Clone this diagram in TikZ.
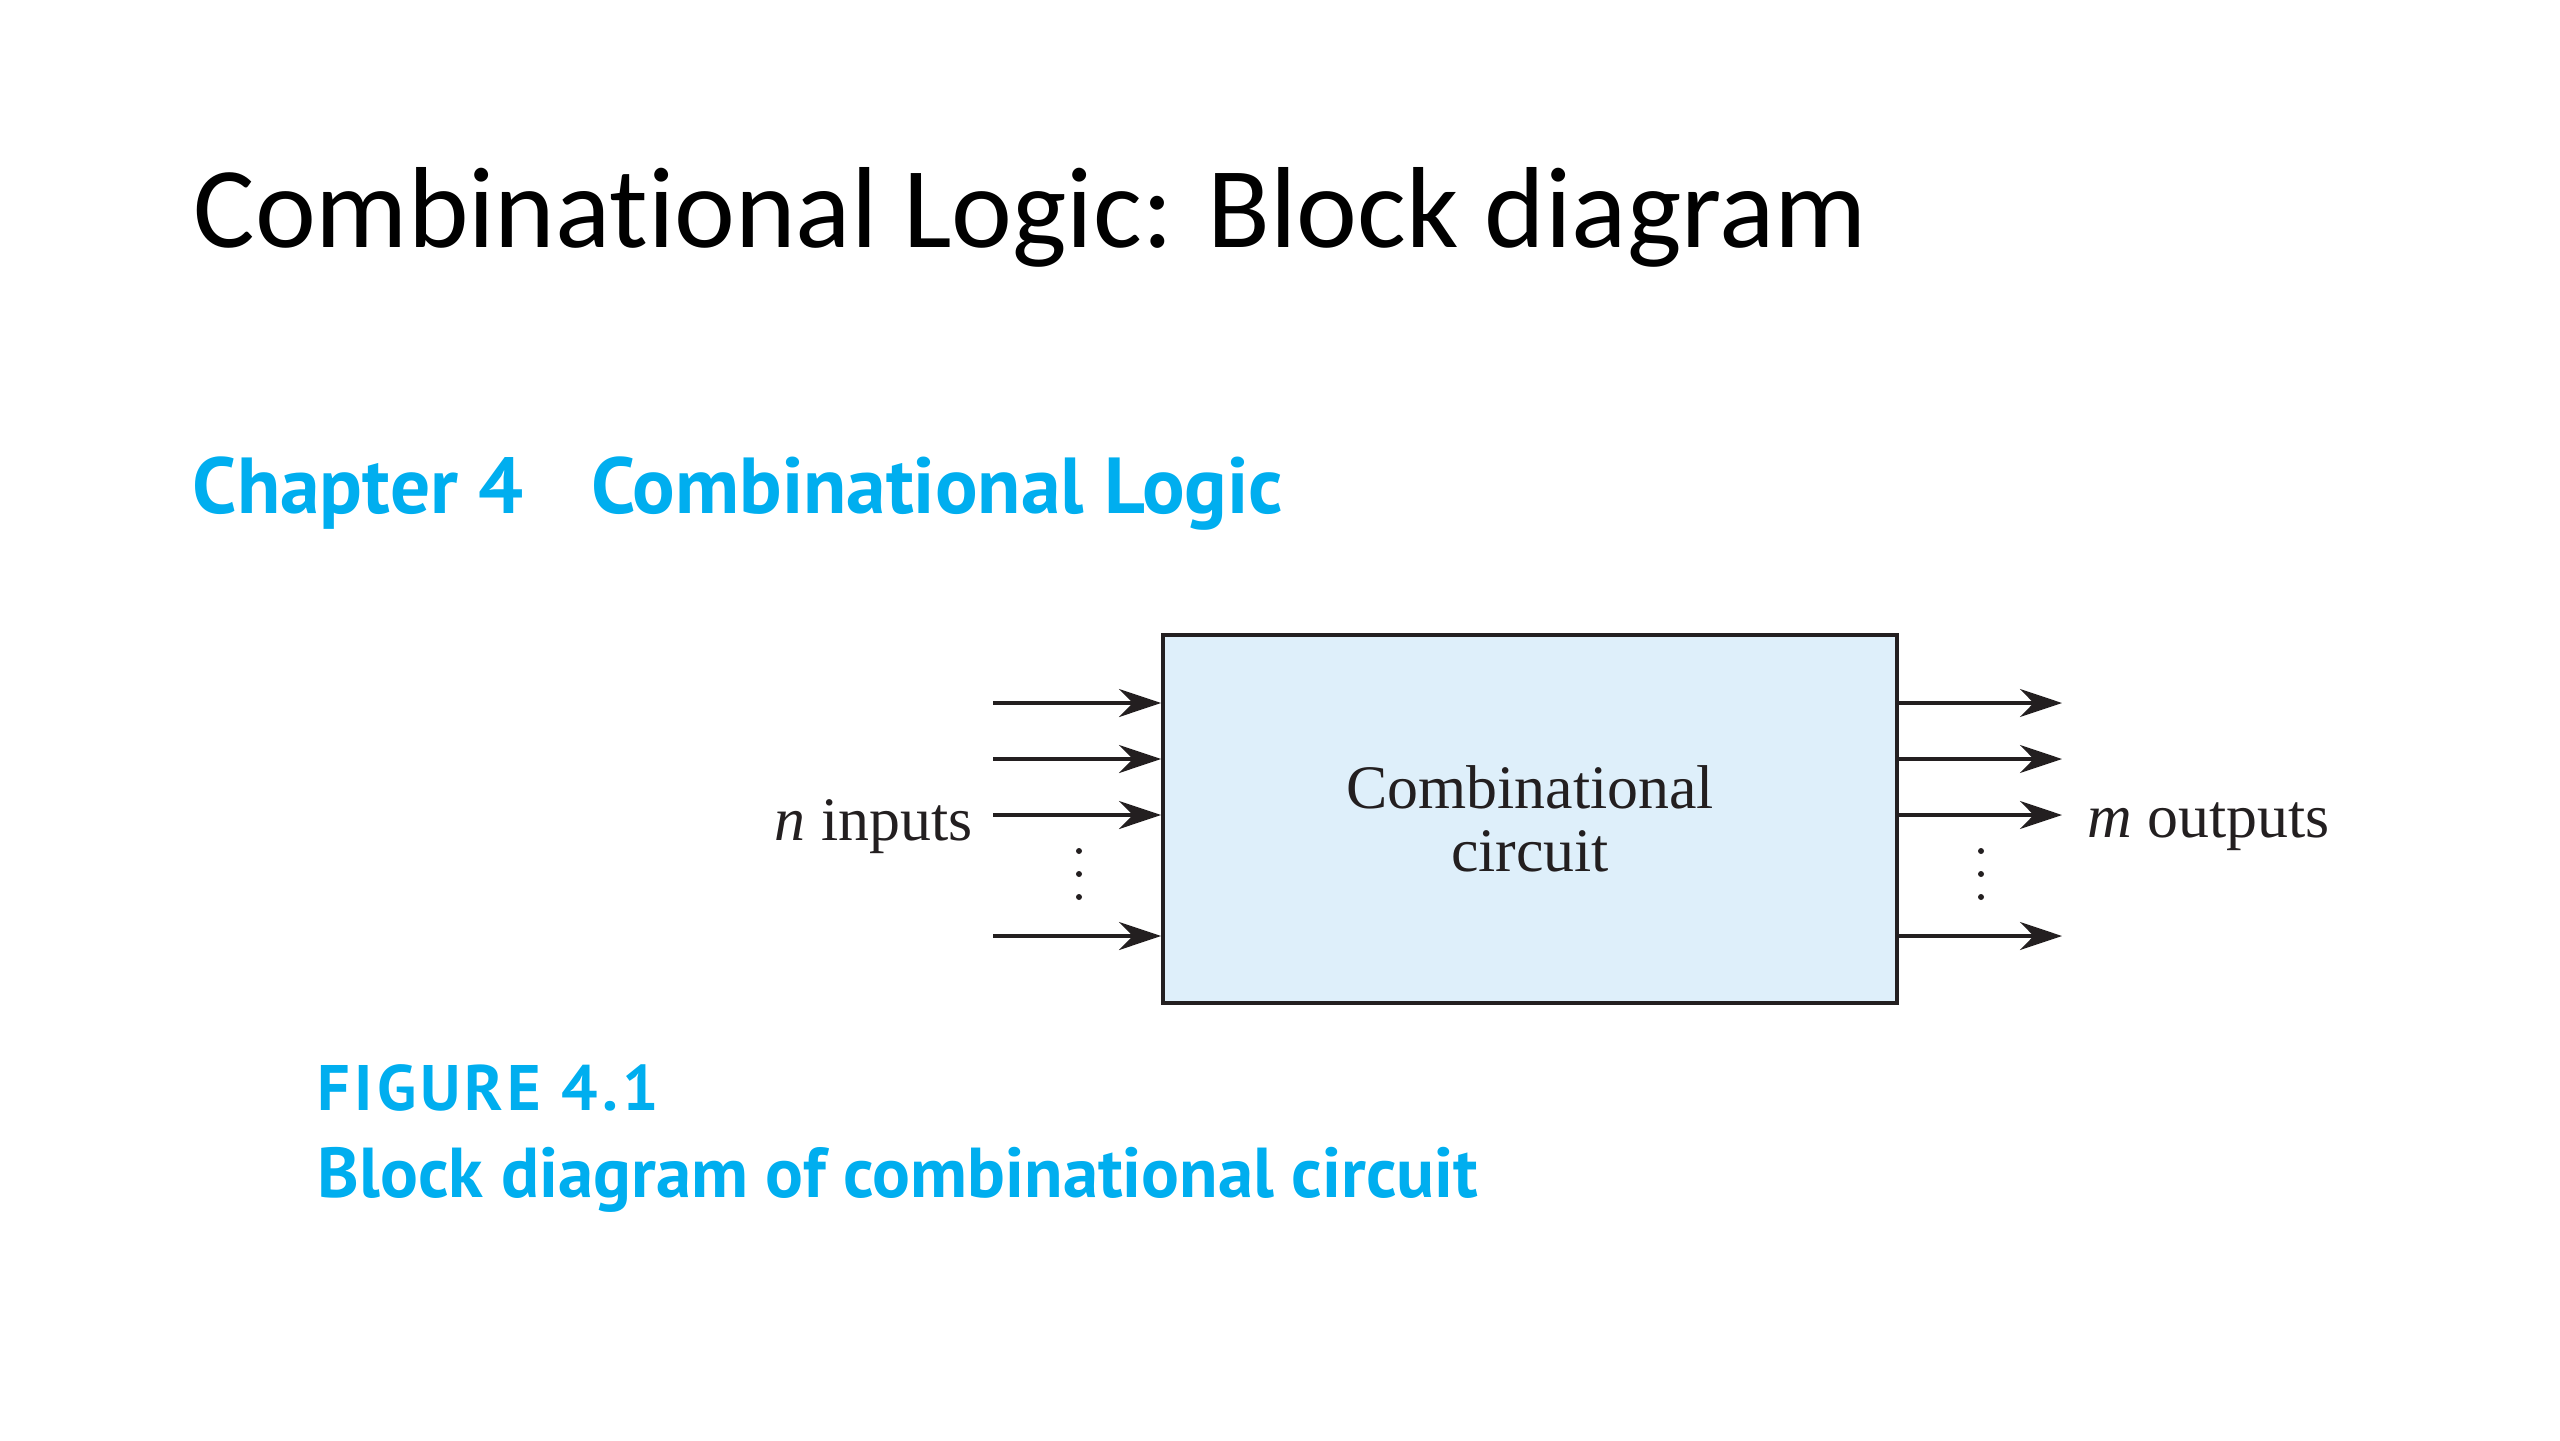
\documentclass[tikz,border=0pt]{standalone}
\usepackage{fontspec}
\setmainfont{Liberation Serif}
\newfontfamily\slidefont[Ligatures=NoCommon]{Carlito}
\newfontfamily\bookfont{PT Sans}
\usepackage{tikz}
\usetikzlibrary{arrows.meta,positioning,calc}
\usepackage{xcolor}
\definecolor{figink}{RGB}{35,31,32}
\definecolor{bookcyan}{RGB}{0,174,239}
\definecolor{boxblue}{RGB}{222,239,250}
\tikzstyle{sigarrow} = [line width=1pt,-{Stealth[length=4.2mm,width=2.8mm]},color=figink]

\begin{document}
\begin{tikzpicture}[
    node distance=0.2cm,
    figtext/.style={font=\fontsize{17.6}{18}\selectfont, text=figink, inner sep=0pt},
    slidetext/.style={inner sep=0pt, anchor=base west},
    combbox/.style={rectangle, draw=figink, line width=1.1pt, fill=boxblue, minimum width=7.34cm, minimum height=3.68cm, align=center, font=\fontsize{17.6}{17.9}\selectfont, text=figink}
]
\useasboundingbox (0,0) rectangle (25.6,-14.4);

% Slide title and book heading
\node[slidetext, font=\slidefont\fontsize{32.8}{36}\selectfont] (title) at (1.93,-2.47) {Combinational Logic: Block diagram};
\node[slidetext, font=\bookfont\bfseries\fontsize{22.6}{24}\selectfont, text=bookcyan] (chapter) at (1.92,-5.13) {Chapter 4\hspace{0.68cm}Combinational Logic};

% The circuit block
\node[combbox] (comb) at (15.30,-8.19) {Combinational\\circuit};

% Input and output lines
\coordinate (in1) at (9.93,-7.03);
\coordinate (in2) at (9.93,-7.59);
\coordinate (in3) at (9.93,-8.15);
\coordinate (in4) at (9.93,-9.36);
\coordinate (out1) at (20.62,-7.03);
\coordinate (out2) at (20.62,-7.59);
\coordinate (out3) at (20.62,-8.15);
\coordinate (out4) at (20.62,-9.36);
\foreach \i in {1,...,4} {
  \draw[sigarrow] (in\i) -- (comb.west |- in\i);
  \draw[sigarrow] (comb.east |- out\i) -- (out\i);
}

% Dots
\foreach \y in {8.51,8.74,8.97} {
  \fill[figink] (10.79,-\y) circle (0.03);
  \fill[figink] (19.81,-\y) circle (0.03);
}

% Labels
\node[figtext, left=0.2cm of in3, yshift=-0.12cm] (nin) {\textit{n} inputs};
\node[figtext, right=0.25cm of out3, yshift=-0.12cm] (mout) {\textit{m} outputs};

% Caption
\node[slidetext, font=\bookfont\bfseries\fontsize{18.3}{20}\selectfont\addfontfeature{LetterSpace=6.5}, text=bookcyan] (fignum) at (3.17,-11.10) {FIGURE 4.1};
\node[slidetext, font=\bookfont\bfseries\fontsize{20.1}{22}\selectfont, text=bookcyan] (figcap) at (3.17,-11.97) {Block diagram of combinational circuit};

\end{tikzpicture}
\end{document}
